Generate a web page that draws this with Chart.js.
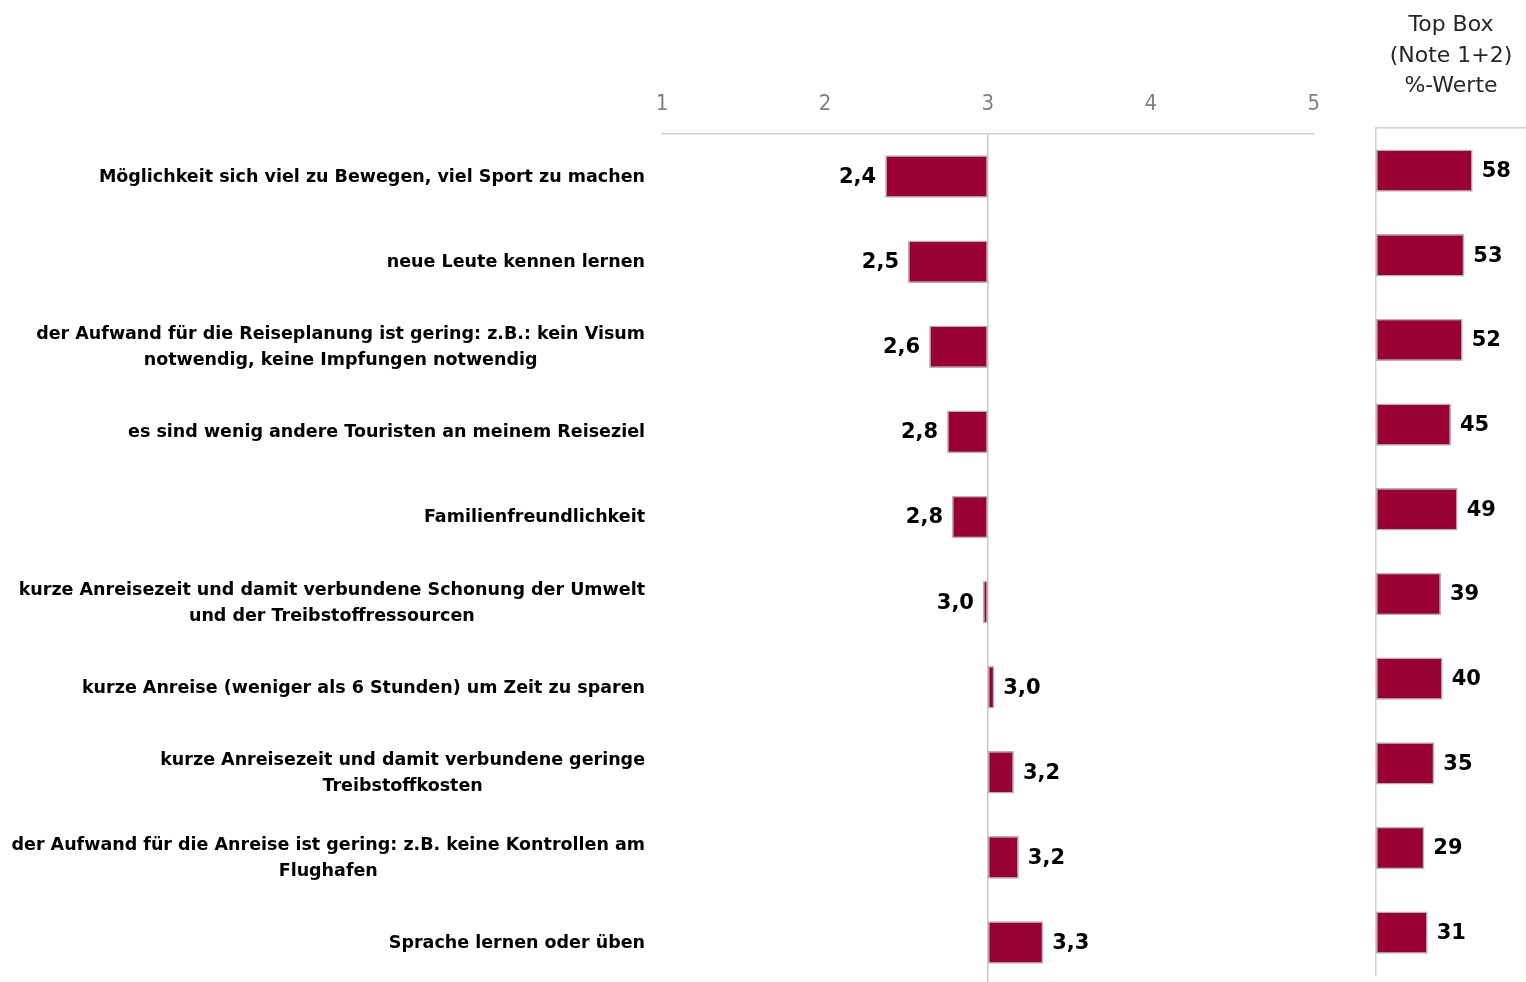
<!DOCTYPE html>
<html lang="de">
<head>
    <meta charset="UTF-8">
    <title>Reisemotive - Mittelwerte und Top Box</title>
    <script src="https://cdn.jsdelivr.net/npm/chart.js"></script>
    <style>
        body {
            margin: 0;
            background-color: #ffffff;
            overflow: hidden; /* the mean chart runs a few px past the bottom edge */
        }
        #meanChart {
            position: absolute;
            left: 0;
            top: 0;
        }
        #topBoxChart {
            position: absolute;
            left: 1340px;
            top: 0;
        }
    </style>
</head>
<body>
    <canvas id="meanChart" width="1337" height="990"></canvas>
    <canvas id="topBoxChart" width="186" height="982"></canvas>

    <script>
        // Data
        const categories = [
            'Möglichkeit sich viel zu Bewegen, viel Sport zu machen',
            'neue Leute kennen lernen',
            ['der Aufwand für die Reiseplanung ist gering: z.B.: kein Visum', 'notwendig, keine Impfungen notwendig'],
            'es sind wenig andere Touristen an meinem Reiseziel',
            'Familienfreundlichkeit',
            ['kurze Anreisezeit und damit verbundene Schonung der Umwelt', 'und der Treibstoffressourcen'],
            'kurze Anreise (weniger als 6 Stunden) um Zeit zu sparen',
            ['kurze Anreisezeit und damit verbundene geringe', 'Treibstoffkosten'],
            ['der Aufwand für die Anreise ist gering: z.B. keine Kontrollen am', 'Flughafen'],
            'Sprache lernen oder üben'
        ];
        const meanScores = [2.37, 2.51, 2.64, 2.75, 2.78, 2.97, 3.04, 3.16, 3.19, 3.34];
        const topBoxPercent = [58, 53, 52, 45, 49, 39, 40, 35, 29, 31];
        const scaleTicks = [1, 2, 3, 4, 5];
        const scaleMid = 3;
        const topBoxTitle = ['Top Box', '(Note 1+2)', '%-Werte'];

        const barFill = '#990033';
        const barEdge = '#b3b3b3';
        const lineGray = '#d0d0d0';
        const labelFont = 'bold 17.5px "DejaVu Sans", sans-serif';
        const valueFont = 'bold 21px "DejaVu Sans", sans-serif';

        // category labels: right aligned block, lines centred on each other
        const categoryLabels = {
            id: 'categoryLabels',
            afterDraw(chart) {
                const ctx = chart.ctx;
                const yScale = chart.scales.y;
                const right = 645;
                const lineH = 26;
                ctx.save();
                ctx.font = labelFont;
                ctx.fillStyle = '#000';
                ctx.textAlign = 'center';
                ctx.textBaseline = 'middle';
                categories.forEach((label, i) => {
                    const lines = Array.isArray(label) ? label : [label];
                    const widest = Math.max(...lines.map(l => ctx.measureText(l).width));
                    const cx = right - widest / 2;
                    const cy = yScale.getPixelForValue(i) + 1;
                    lines.forEach((l, j) => {
                        ctx.fillText(l, cx, cy + (j - (lines.length - 1) / 2) * lineH);
                    });
                });
                ctx.restore();
            }
        };

        // value labels next to the bar ends (left of the bar when below the midpoint)
        const barValues = {
            id: 'barValues',
            afterDatasetsDraw(chart, args, opts) {
                const ctx = chart.ctx;
                const meta = chart.getDatasetMeta(0);
                const values = chart.data.datasets[0].values;
                ctx.save();
                ctx.font = valueFont;
                ctx.fillStyle = '#000';
                ctx.textBaseline = 'middle';
                meta.data.forEach((bar, i) => {
                    const txt = opts.format(values[i]);
                    const lo = Math.min(bar.x, bar.base);
                    const hi = Math.max(bar.x, bar.base);
                    if (opts.mid !== undefined && values[i] < opts.mid) {
                        ctx.textAlign = 'right';
                        ctx.fillText(txt, lo - 9, bar.y + 1);
                    } else {
                        ctx.textAlign = 'left';
                        ctx.fillText(txt, hi + 9, bar.y + 1);
                    }
                });
                ctx.restore();
            }
        };

        // Mean score chart (floating bars from the scale midpoint)
        new Chart(document.getElementById('meanChart'), {
            type: 'bar',
            data: {
                labels: categories,
                datasets: [{
                    data: meanScores.map(v => [scaleMid, v]),
                    values: meanScores,
                    backgroundColor: barFill,
                    borderColor: barEdge,
                    borderWidth: 1.5,
                    borderSkipped: false,
                    categoryPercentage: 1,
                    barPercentage: 0.5
                }]
            },
            options: {
                indexAxis: 'y',
                responsive: false,
                animation: false,
                layout: {
                    padding: { left: 662, right: 7, top: 73.6, bottom: 5 }
                },
                scales: {
                    x: {
                        position: 'top',
                        min: 1,
                        max: 5,
                        afterBuildTicks: scale => {
                            scale.ticks = scaleTicks.map(v => ({ value: v }));
                        },
                        ticks: {
                            color: '#808080',
                            padding: 17,
                            font: { family: '"Liberation Sans Narrow", "DejaVu Sans Condensed", sans-serif', size: 22 }
                        },
                        grid: {
                            drawTicks: false,
                            color: c => (c.tick && c.tick.value === scaleMid) ? '#c8c8c8' : 'rgba(0,0,0,0)',
                            lineWidth: 1.5
                        },
                        border: { color: lineGray, width: 1.5 }
                    },
                    y: {
                        display: false
                    }
                },
                plugins: {
                    legend: { display: false },
                    tooltip: { enabled: false },
                    barValues: { mid: scaleMid, format: v => v.toFixed(1).replace('.', ',') }
                }
            },
            plugins: [categoryLabels, barValues]
        });

        // Top Box chart
        new Chart(document.getElementById('topBoxChart'), {
            type: 'bar',
            data: {
                labels: categories,
                datasets: [{
                    data: topBoxPercent,
                    values: topBoxPercent,
                    backgroundColor: barFill,
                    borderColor: barEdge,
                    borderWidth: 1.5,
                    borderSkipped: false,
                    categoryPercentage: 1,
                    barPercentage: 0.5
                }]
            },
            options: {
                indexAxis: 'y',
                responsive: false,
                animation: false,
                layout: {
                    padding: { left: 36, right: 0, top: 0, bottom: 7 }
                },
                scales: {
                    x: {
                        position: 'top',
                        min: 0,
                        max: 90,
                        ticks: { display: false },
                        grid: { display: false, drawTicks: false },
                        border: { color: lineGray, width: 1.5 }
                    },
                    y: {
                        ticks: { display: false },
                        grid: { display: false, drawTicks: false },
                        border: { color: lineGray, width: 1.5 }
                    }
                },
                plugins: {
                    legend: { display: false },
                    tooltip: { enabled: false },
                    title: {
                        display: true,
                        text: topBoxTitle,
                        fullSize: false,
                        color: '#262626',
                        font: { family: '"DejaVu Sans", sans-serif', size: 22, weight: 'normal', lineHeight: 1.39 },
                        padding: { top: 10.25, bottom: 26.25 }
                    },
                    barValues: { format: v => String(v) }
                }
            },
            plugins: [barValues]
        });
    </script>
</body>
</html>
